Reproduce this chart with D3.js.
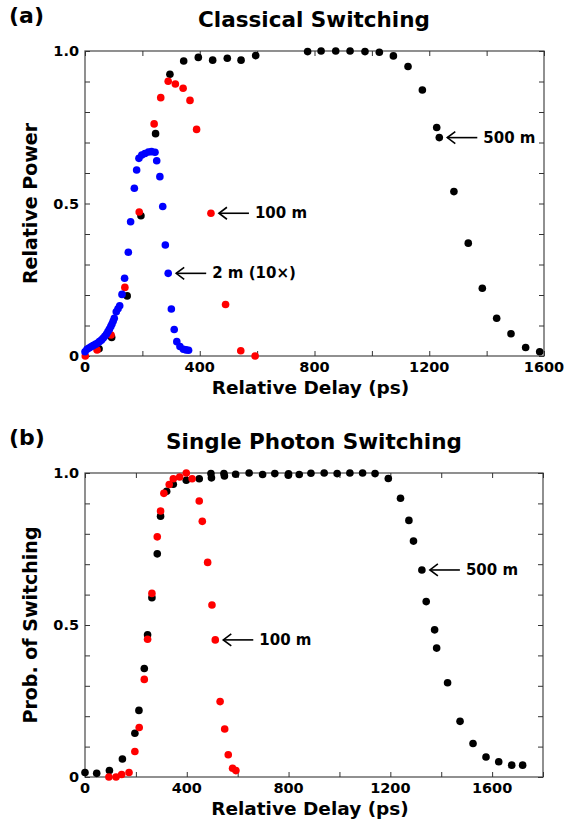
<!DOCTYPE html>
<html>
<head>
<meta charset="utf-8">
<script src="https://cdn.jsdelivr.net/npm/d3@7"></script>
<style>
  html, body { margin: 0; padding: 0; background: #fff; }
  svg { display: block; font-family: "DejaVu Sans", sans-serif; font-weight: bold; }
</style>
</head>
<body>
<svg id="chart" width="566" height="820"></svg>
<script>
// ---- Panel (a): classical switching, relative power vs delay ----
const aBlackDelay = [49, 93, 147, 195, 246, 296, 344, 395, 445, 496, 544, 595, 776, 823, 874, 924, 976, 1026, 1075, 1126, 1176, 1226, 1235, 1286, 1336, 1385, 1435, 1485, 1536, 1585];
const aBlackPower = [0.024, 0.061, 0.197, 0.46, 0.729, 0.924, 0.967, 0.979, 0.970, 0.976, 0.970, 0.985, 0.998, 1.0, 1.0, 1.0, 0.998, 0.996, 0.984, 0.949, 0.872, 0.749, 0.716, 0.539, 0.370, 0.222, 0.124, 0.073, 0.028, 0.014];

const aRedDelay = [1, 42, 91, 139, 189, 241, 264, 290, 315, 342, 366, 389, 439, 490, 543, 593];
const aRedPower = [0.0, 0.020, 0.069, 0.225, 0.472, 0.761, 0.847, 0.901, 0.892, 0.878, 0.838, 0.743, 0.468, 0.169, 0.017, 0.0];

const aBlueDelay = [0, 7, 14, 21, 28, 36, 43, 50, 57, 63, 69, 75, 80, 85, 90, 94, 98, 102, 109, 115, 121, 129, 138, 151, 159, 172, 180, 188, 198, 209, 221, 232, 244, 250, 261, 271, 280, 290, 301, 311, 320, 331, 343, 352, 361];
const aBluePower = [0.014, 0.022, 0.026, 0.030, 0.034, 0.038, 0.042, 0.047, 0.052, 0.058, 0.065, 0.072, 0.080, 0.088, 0.097, 0.105, 0.114, 0.124, 0.145, 0.155, 0.165, 0.202, 0.255, 0.340, 0.440, 0.550, 0.610, 0.648, 0.659, 0.664, 0.669, 0.670, 0.668, 0.640, 0.588, 0.490, 0.364, 0.271, 0.154, 0.087, 0.047, 0.031, 0.022, 0.020, 0.019];

// ---- Panel (b): single photon switching probability vs delay ----
const bBlackDelay = [0, 46, 96, 147, 196, 212, 233, 246, 263, 284, 297, 321, 347, 398, 449, 495, 497, 546, 548, 592, 645, 698, 746, 799, 800, 842, 888, 940, 991, 1041, 1091, 1140, 1192, 1240, 1273, 1291, 1324, 1341, 1374, 1382, 1425, 1474, 1525, 1576, 1626, 1677, 1720];
const bBlackProb = [0.015, 0.012, 0.021, 0.059, 0.144, 0.219, 0.357, 0.468, 0.590, 0.734, 0.858, 0.940, 0.963, 0.976, 0.981, 0.998, 0.984, 0.998, 0.990, 0.996, 1.0, 0.995, 0.998, 0.993, 0.997, 0.995, 0.999, 1.0, 0.998, 1.0, 1.0, 0.998, 0.982, 0.917, 0.844, 0.776, 0.681, 0.577, 0.484, 0.424, 0.310, 0.183, 0.110, 0.066, 0.050, 0.039, 0.039];

const bRedDelay = [94, 122, 144, 173, 196, 213, 233, 246, 263, 284, 297, 310, 331, 347, 372, 398, 421, 449, 461, 482, 499, 512, 531, 549, 563, 580, 593];
const bRedProb = [0.0, 0.0, 0.008, 0.015, 0.084, 0.163, 0.321, 0.453, 0.604, 0.790, 0.875, 0.933, 0.962, 0.981, 0.987, 1.0, 0.981, 0.908, 0.841, 0.706, 0.566, 0.451, 0.248, 0.158, 0.073, 0.029, 0.021];

// Axis ticks and labels
const yTicks = [0, 0.5, 1.0];
const yTickLabels = ["0", "0.5", "1.0"];
const aXTicks = [0, 400, 800, 1200, 1600];
const bXTicks = [0, 400, 800, 1200, 1600];

const svg = d3.select("#chart");
const frameColor = "#555";

function zip(xs, ys) { return xs.map((x, i) => [x, ys[i]]); }

function panel(cfg) {
  const g = svg.append("g");
  const x = d3.scaleLinear().domain([0, cfg.xMax]).range([cfg.left, cfg.right]);
  const y = d3.scaleLinear().domain([0, 1]).range([cfg.bottom, cfg.top]);

  // frame
  g.append("rect")
    .attr("x", cfg.left).attr("y", cfg.top)
    .attr("width", cfg.right - cfg.left).attr("height", cfg.bottom - cfg.top)
    .attr("fill", "none").attr("stroke", frameColor).attr("stroke-width", 1.3);

  // inward ticks on all four sides
  const tickLen = 5;
  const xMinor = d3.range(0, cfg.xMax + 1, 200);
  const yMinor = d3.range(0, 11).map(d => d / 10);
  const axisG = g.append("g");
  const bottomAxis = d3.axisBottom(x).tickValues(xMinor).tickSize(-tickLen).tickFormat("");
  const topAxis = d3.axisTop(x).tickValues(xMinor).tickSize(-tickLen).tickFormat("");
  const leftAxis = d3.axisLeft(y).tickValues(yMinor).tickSize(-tickLen).tickFormat("");
  const rightAxis = d3.axisRight(y).tickValues(yMinor).tickSize(-tickLen).tickFormat("");
  axisG.append("g").attr("transform", `translate(0,${cfg.bottom})`).call(bottomAxis);
  axisG.append("g").attr("transform", `translate(0,${cfg.top})`).call(topAxis);
  axisG.append("g").attr("transform", `translate(${cfg.left},0)`).call(leftAxis);
  axisG.append("g").attr("transform", `translate(${cfg.right},0)`).call(rightAxis);
  axisG.selectAll(".domain").remove();
  axisG.selectAll(".tick line").attr("stroke", "#333").attr("stroke-width", 1);

  // tick labels
  g.selectAll(".xl").data(cfg.xTicks).join("text")
    .attr("x", d => x(d)).attr("y", cfg.bottom + 16)
    .attr("text-anchor", "middle").attr("font-size", 14.5).text(d => d);
  g.selectAll(".yl").data(yTicks).join("text")
    .attr("x", cfg.left - 6).attr("y", d => y(d) + 5)
    .attr("text-anchor", "end").attr("font-size", 14.5).text((d, i) => yTickLabels[i]);

  // axis titles
  g.append("text").attr("x", (cfg.left + cfg.right) / 2 - 4).attr("y", cfg.bottom + 38)
    .attr("text-anchor", "middle").attr("font-size", 18.5).text("Relative Delay (ps)");
  g.append("text")
    .attr("transform", `translate(37,${(cfg.top + cfg.bottom) / 2}) rotate(-90)`)
    .attr("text-anchor", "middle").attr("font-size", 19).text(cfg.yLabel);

  // panel title and tag
  g.append("text").attr("x", 314).attr("y", cfg.top - 24)
    .attr("text-anchor", "middle").attr("font-size", 21.5).text(cfg.title);
  g.append("text").attr("x", 9).attr("y", cfg.top - 28)
    .attr("font-size", 22).text(cfg.tag);

  // data series
  cfg.series.forEach(s => {
    g.append("g").selectAll("circle").data(zip(s.x, s.y)).join("circle")
      .attr("cx", d => x(d[0])).attr("cy", d => y(d[1]))
      .attr("r", 3.8).attr("fill", s.color);
  });

  // annotations: arrow pointing at a marked point, then the label
  cfg.notes.forEach(n => {
    const px = x(n.at[0]) + 8, py = y(n.at[1]);
    const len = 30;
    const a = g.append("g").attr("stroke", "#000").attr("stroke-width", 1.6).attr("fill", "none");
    a.append("line").attr("x1", px).attr("y1", py).attr("x2", px + len).attr("y2", py);
    a.append("path").attr("d", `M${px + 8},${py - 6} L${px},${py} L${px + 8},${py + 6}`);
    g.append("text").attr("x", px + len + 6).attr("y", py + 5)
      .attr("font-size", 15).text(n.text);
  });
}

panel({
  left: 85, right: 544, top: 51, bottom: 356, xMax: 1600,
  xTicks: aXTicks, yLabel: "Relative Power", title: "Classical Switching", tag: "(a)",
  series: [
    { x: aBlackDelay, y: aBlackPower, color: "#000" },
    { x: aRedDelay, y: aRedPower, color: "#ff0000" },
    { x: aBlueDelay, y: aBluePower, color: "#0000ff" }
  ],
  notes: [
    { at: [aBlackDelay[22], aBlackPower[22]], text: "500 m" },
    { at: [aRedDelay[12], aRedPower[12]], text: "100 m" },
    { at: [aBlueDelay[37], aBluePower[37]], text: "2 m (10×)" }
  ]
});

panel({
  left: 85, right: 543, top: 473, bottom: 777, xMax: 1800,
  xTicks: bXTicks, yLabel: "Prob. of Switching", title: "Single Photon Switching", tag: "(b)",
  series: [
    { x: bBlackDelay, y: bBlackProb, color: "#000" },
    { x: bRedDelay, y: bRedProb, color: "#ff0000" }
  ],
  notes: [
    { at: [bBlackDelay[36], bBlackProb[36]], text: "500 m" },
    { at: [bRedDelay[21], bRedProb[21]], text: "100 m" }
  ]
});
</script>
</body>
</html>
